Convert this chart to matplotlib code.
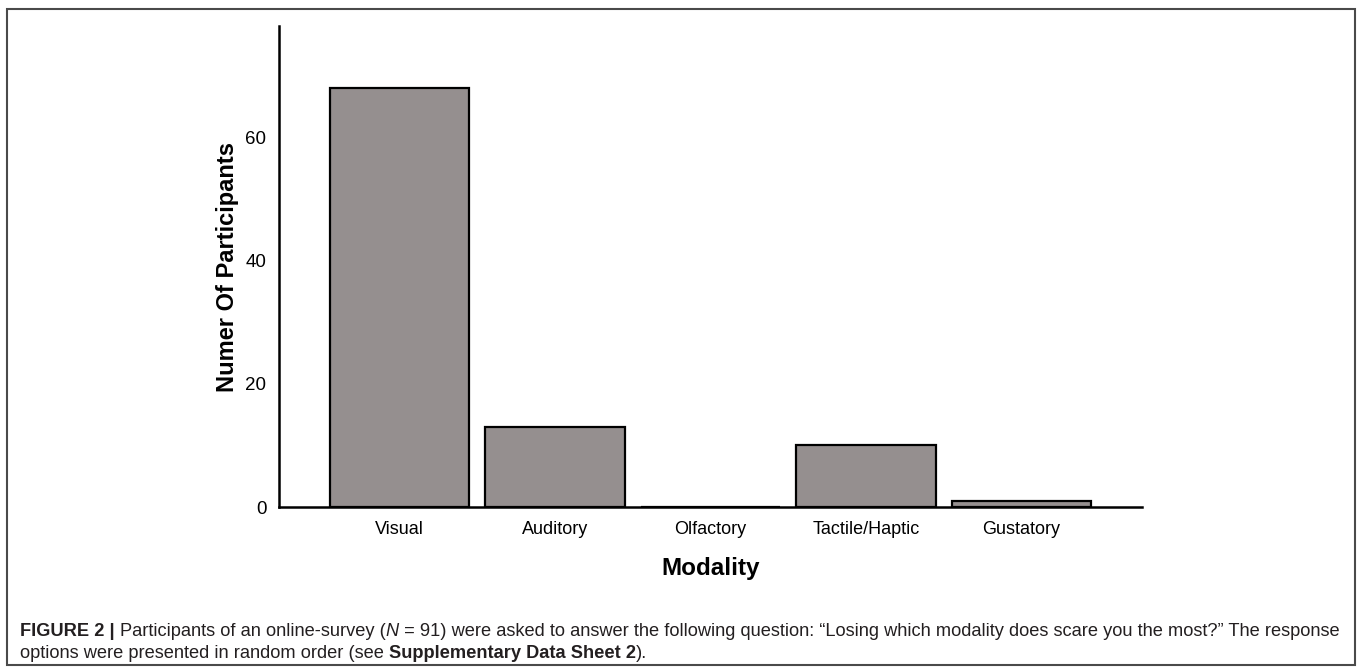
import matplotlib
matplotlib.use('Agg')
import matplotlib.pyplot as plt
from matplotlib.patches import Rectangle
from matplotlib import font_manager as fm

# data
modalities = ['Visual', 'Auditory', 'Olfactory', 'Tactile/Haptic', 'Gustatory']
counts = [68, 13, 0, 10, 1]
y_ticks = [0, 20, 40, 60]

names = {f.name for f in fm.fontManager.ttflist}
cap_font = 'Liberation Sans Narrow' if 'Liberation Sans Narrow' in names else 'Liberation Sans'
plt.rcParams['font.family'] = ['Liberation Sans', 'DejaVu Sans']

fig = plt.figure(figsize=(13.58, 6.68), dpi=100)
ax = fig.add_axes([279 / 1358, 161 / 668, 863 / 1358, 481 / 668])

x = range(len(modalities))
ax.bar(x, counts, width=0.9, color='#958f8f', edgecolor='black', linewidth=1.6)
ax.set_xlim(-0.775, 4.775)
ax.set_ylim(0, 78)
ax.set_xticks(list(x))
ax.set_xticklabels(modalities, fontsize=13)
ax.set_yticks(y_ticks)
ax.set_yticklabels([str(v) for v in y_ticks], fontsize=13.5)
ax.tick_params(length=0, pad=9)
ax.tick_params(axis='x', pad=10)
for s in ['top', 'right']:
    ax.spines[s].set_visible(False)
for s in ['left', 'bottom']:
    ax.spines[s].set_linewidth(1.8)
ax.set_ylabel('Numer Of Participants', fontsize=17, fontweight='bold', labelpad=5)
ax.set_xlabel('Modality', fontsize=17.5, fontweight='bold', labelpad=14)

# frame round the whole figure
fig.patches.append(Rectangle((7 / 1358, 3 / 668), 1348 / 1358, 656 / 668,
                             transform=fig.transFigure, fill=False,
                             edgecolor='#4a4a4a', linewidth=1.5))

# caption with mixed styles
renderer = fig.canvas.get_renderer()


def rich_line(pieces, x0, y0, size=13.15):
    xp = x0
    for txt, weight, style in pieces:
        t = fig.text(xp / 1358, y0 / 668, txt, fontsize=size, fontweight=weight,
                     fontstyle=style, family=cap_font, color='#231f20', va='baseline')
        bb = t.get_window_extent(renderer=renderer)
        xp = bb.x1


rich_line([('FIGURE 2 | ', 'bold', 'normal'),
           ('Participants of an online-survey (', 'normal', 'normal'),
           ('N', 'normal', 'italic'),
           (' = 91) were asked to answer the following question: \u201cLosing which modality does scare you the most?\u201d The response', 'normal', 'normal')],
          20, 668 - 636)
rich_line([('options were presented in random order (see ', 'normal', 'normal'),
           ('Supplementary Data Sheet 2', 'bold', 'normal'),
           (').', 'normal', 'normal')],
          20, 668 - 658)

fig.savefig('out.png', dpi=100)
